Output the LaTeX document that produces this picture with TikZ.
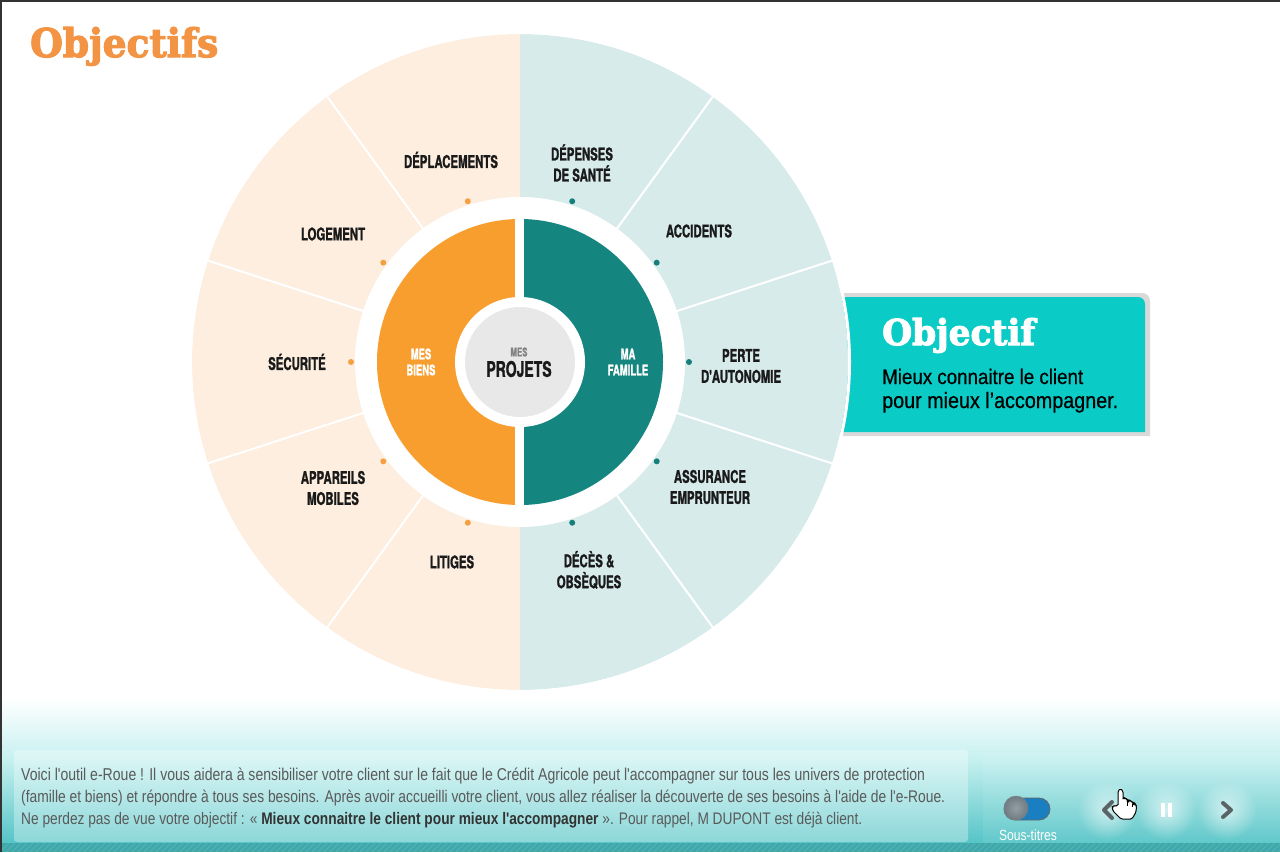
\documentclass[tikz,border=0pt]{standalone}
\usepackage{fontspec}
\usetikzlibrary{fadings}
\newfontfamily\bebas[FakeStretch=0.65, BoldFeatures={FakeBold=1.2}]{TeX Gyre Heros}
\newfontfamily\slab[BoldFeatures={FakeBold=3}]{DejaVu Serif}
\newfontfamily\capt[FakeStretch=0.82]{Liberation Sans}
\newfontfamily\boxf[FakeStretch=0.89, FakeBold=0.6]{Liberation Sans}
\definecolor{titleor}{HTML}{F39445}
\definecolor{peach}{HTML}{FDEEDF}
\definecolor{paleteal}{HTML}{D8EBEB}
\definecolor{ringor}{HTML}{F89E2E}
\definecolor{ringteal}{HTML}{158580}
\definecolor{centergray}{HTML}{E8E8E8}
\definecolor{labelc}{HTML}{1A1A1A}
\definecolor{dotor}{HTML}{F5A040}
\definecolor{dotteal}{HTML}{167E7B}
\definecolor{boxcyan}{HTML}{0BCBC6}
\definecolor{boxgray}{HTML}{D9D9D9}
\definecolor{barA}{HTML}{C6F0F0}
\definecolor{barB}{HTML}{55C4C6}
\definecolor{barC}{HTML}{3FA8AA}
\definecolor{captc}{HTML}{5A5A5A}
\definecolor{captb}{HTML}{333333}
\definecolor{toggleblue}{HTML}{1A7FC1}
\definecolor{knob}{HTML}{6F7C84}
\definecolor{chev}{HTML}{5A6466}
\tikzfading[name=glowfade, inner color=transparent!0, outer color=transparent!100]
\begin{document}
\begin{tikzpicture}[x=1pt,y=-1pt,
  lbl/.style={font=\bebas\bfseries\fontsize{17.5}{21}\selectfont, text=labelc, align=center, inner sep=0},
  inlbl/.style={font=\bebas\bfseries\fontsize{14.6}{16}\selectfont, text=white, align=center, inner sep=0},
  divider/.style={white, line width=2},
  dotO/.style={fill=dotor},
  dotT/.style={fill=dotteal},
  captline/.style={anchor=base west, inner sep=0, text=captc, font=\capt\fontsize{15}{18}\selectfont},
  glow/.style={white, opacity=0.6, path fading=glowfade},
  chevron/.style={chev, line width=4, line cap=round, line join=round}]
\useasboundingbox (0,0) rectangle (1280,852);
\fill[white] (0,0) rectangle (1280,852);

% title
\node[anchor=base west, inner sep=0, text=titleor] (title) at (30,57)
  {\resizebox{188pt}{30pt}{\slab\bfseries Objectifs}};

% objective box (behind the wheel)
\fill[boxgray] (820,293) -- (1142,293) arc[start angle=-90,end angle=0,radius=8] -- (1150,436) -- (820,436) -- cycle;
\fill[boxcyan] (820,297) -- (1138,297) arc[start angle=-90,end angle=0,radius=7] -- (1145,432) -- (820,432) -- cycle;
\node[anchor=base west, inner sep=0, text=white] (objt) at (882,345)
  {\resizebox{153pt}{27pt}{\slab\bfseries Objectif}};
\node[anchor=base west, inner sep=0, text=black] (obj1) at (882,384)
  {\resizebox{201pt}{!}{\boxf\fontsize{21}{24}\selectfont Mieux connaitre le client}};
\node[anchor=base west, inner sep=0, text=black] (obj2) at (882,408)
  {\resizebox{236pt}{!}{\boxf\fontsize{21}{24}\selectfont pour mieux l’accompagner.}};

% wheel
\coordinate (C) at (520,362);
\begin{scope}[shift={(520,362)}]
  \fill[paleteal] (0,0) -- (-90:328) arc[start angle=-90,end angle=90,radius=328] -- cycle;
  \fill[peach] (0,0) -- (90:328) arc[start angle=90,end angle=270,radius=328] -- cycle;
  \draw[white, line width=3] (0,0) circle (329.5);
  \foreach \a in {-54,-18,18,54,126,162,198,234}
    \draw[divider] (\a:160) -- (\a:329);
  \fill[white] (0,0) circle (165);
  \fill[ringteal] (0,0) -- (-90:143) arc[start angle=-90,end angle=90,radius=143] -- cycle;
  \fill[ringor] (0,0) -- (90:143) arc[start angle=90,end angle=270,radius=143] -- cycle;
  \fill[white] (-5,-150) rectangle (4,150);
  \fill[white] (0,0) circle (65);
  \fill[centergray] (0,0) circle (55);
  \foreach \a in {-72,-36,0,36,72}
    \fill[dotT] (\a:169) circle (3);
  \foreach \a in {108,144,180,216,252}
    \fill[dotO] (\a:169) circle (3);
\end{scope}

% center labels
\node[inlbl] (biens) at (421,362) {MES\\BIENS};
\node[inlbl] (famille) at (628,362) {MA\\FAMILLE};
\node[inner sep=0, text=gray, font=\bebas\bfseries\fontsize{12}{12}\selectfont] (mes) at (519,352) {MES};
\node[inner sep=0, text=labelc, font=\bebas\bfseries\fontsize{21.5}{21}\selectfont] (projets) at (519,369) {PROJETS};

% outer labels
\node[lbl] (depl) at (451,160) {DÉPLACEMENTS};
\node[lbl] (loge) at (333,234) {LOGEMENT};
\node[lbl] (secu) at (297,362) {SÉCURITÉ};
\node[lbl] (appa) at (333,488) {APPAREILS\\MOBILES};
\node[lbl] (liti) at (452,562) {LITIGES};
\node[lbl] (sante) at (582,163) {DÉPENSES\\DE SANTÉ};
\node[lbl] (acci) at (699,231) {ACCIDENTS};
\node[lbl] (perte) at (741,366) {PERTE\\D'AUTONOMIE};
\node[lbl] (assu) at (710,487) {ASSURANCE\\EMPRUNTEUR};
\node[lbl] (deces) at (589,570) {DÉCÈS \&\\OBSÈQUES};

% bottom bar
\shade[top color=white, bottom color=barA] (0,698) rectangle (1280,760);
\shade[top color=barA, bottom color=barB] (0,760) rectangle (1280,843);
\fill[barC] (0,843) rectangle (1280,852);
\foreach \i in {0,6,...,1284}
  \draw[white, opacity=0.12, line width=0.8] (\i,852) -- (\i+9,843);
\fill[white, opacity=0.07] (983,752) rectangle (1280,843);
\fill[white, opacity=0.32, rounded corners=3] (14,750) rectangle (968,842);

\node[captline] (c1) at (21,780.5) {\resizebox{904pt}{!}{Voici l'outil e-Roue ! Il vous aidera à sensibiliser votre client sur le fait que le Crédit Agricole peut l'accompagner sur tous les univers de protection}};
\node[captline] (c2) at (21,802.5) {\resizebox{924pt}{!}{(famille et biens) et répondre à tous ses besoins. Après avoir accueilli votre client, vous allez réaliser la découverte de ses besoins à l'aide de l'e-Roue.}};
\node[captline] (c3) at (21,824.5) {\resizebox{841pt}{!}{Ne perdez pas de vue votre objectif : «~{\color{captb}\bfseries Mieux connaitre le client pour mieux l'accompagner}~». Pour rappel, M DUPONT est déjà client.}};

% controls
\fill[glow] (1107,810) circle (30);
\fill[glow] (1166,810) circle (30);
\fill[glow] (1227,810) circle (30);
\fill[toggleblue, draw=black!60, line width=0.8, rounded corners=11] (1004,798) rectangle (1050,820);
\shade[inner color=knob!75!white, outer color=knob, draw=black!50, line width=0.5] (1016,808) circle (12);
\node[inner sep=0, text=white] (sous) at (1028,835) {\resizebox{58pt}{!}{\capt\fontsize{13}{13}\selectfont Sous-titres}};
\coordinate (pa) at (1112,802);
\coordinate (pb) at (1104,810);
\coordinate (pc) at (1112,818);
\draw[chevron] (pa) -- (pb) -- (pc);
\fill[white] (1161,803) rectangle (1164.5,817);
\fill[white] (1168,803) rectangle (1171.5,817);
\coordinate (na) at (1223,803);
\coordinate (nb) at (1231,810);
\coordinate (nc) at (1223,817);
\draw[chevron] (na) -- (nb) -- (nc);
% hand cursor
\draw[fill=white, draw=black, line width=1, rounded corners=1.5]
  (1118,806) -- (1118,791) -- (1120.5,788.5) -- (1123,791) -- (1123,799)
  -- (1125,798) -- (1127.5,799.5) -- (1128,801) -- (1130,800.5) -- (1132.5,802) -- (1133,803.5)
  -- (1135,803.5) -- (1136.5,806) -- (1136,812) -- (1132,819) -- (1121,819)
  -- (1113,811) -- (1112,807) -- (1114.5,805.5) -- cycle;
\draw[black, line width=0.7] (1127.5,801) -- (1127.5,806);
\draw[black, line width=0.7] (1132.5,803.5) -- (1132.5,807);

% frame
\draw[black!80, line width=1.5] (0,0.75) -- (1280,0.75);
\draw[black!80, line width=1.5] (0.75,0) -- (0.75,852);
\end{tikzpicture}
\end{document}
